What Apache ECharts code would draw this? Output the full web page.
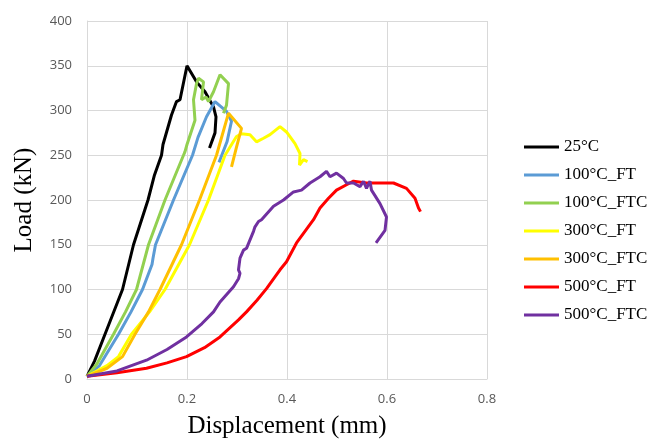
<!DOCTYPE html>
<html>
<head>
<meta charset="utf-8">
<script src="https://cdn.jsdelivr.net/npm/echarts@6/dist/echarts.min.js"></script>
<style>
  html, body { margin: 0; padding: 0; background: #fff; }
  #chart { width: 654px; height: 439px; }
</style>
</head>
<body>
<div id="chart"></div>
<script>
// load-displacement curves, [displacement mm, load kN]
const names = ["25°C", "100°C_FT", "100°C_FTC", "300°C_FT", "300°C_FTC", "500°C_FT", "500°C_FTC"];
const colors = ["#000000", "#5b9bd5", "#92d050", "#ffff00", "#ffc000", "#ff0000", "#7030a0"];

const curve25 = [[0,3],[0.015,20],[0.036,50],[0.071,100],[0.093,150],[0.122,200],[0.135,228],
  [0.149,250],[0.152,262],[0.169,295],[0.179,310],[0.186,312],[0.2,350],[0.219,332],
  [0.236,321],[0.253,304],[0.258,293],[0.256,275],[0.245,258]];
const curve100FT = [[0,3],[0.025,15],[0.063,50],[0.088,75],[0.111,100],[0.13,128],[0.132,135],
  [0.137,150],[0.173,200],[0.211,250],[0.222,270],[0.239,293],[0.256,310],[0.279,299],[0.289,288],
  [0.28,265],[0.264,242]];
const curve100FTC = [[0,3],[0.02,17],[0.053,50],[0.077,75],[0.099,100],[0.123,150],[0.156,200],
  [0.193,250],[0.196,254],[0.2,262],[0.216,289],[0.213,312],[0.219,330],[0.223,336],[0.233,332],
  [0.229,312],[0.238,315],[0.243,310],[0.253,321],[0.266,340],[0.283,330],[0.279,306],[0.273,297]];
const curve300FT = [[0,3],[0.04,15],[0.063,25],[0.089,50],[0.125,75],[0.156,100],[0.205,150],
  [0.243,200],[0.276,250],[0.299,271],[0.309,274],[0.326,273],[0.339,265],[0.353,269],[0.366,273],
  [0.386,282],[0.399,276],[0.416,263],[0.426,252],[0.425,239],[0.433,245],[0.441,243]];
const curve300FTC = [[0,3],[0.04,12],[0.071,25],[0.096,50],[0.123,75],[0.146,100],[0.189,150],
  [0.225,200],[0.259,250],[0.283,297],[0.309,280],[0.299,259],[0.289,237]];
const curve500FT = [[0,3],[0.06,7],[0.119,12],[0.16,18],[0.199,25],[0.235,35],[0.266,47],[0.303,66],
  [0.319,75],[0.34,88],[0.359,101],[0.386,122],[0.399,131],[0.419,152],[0.453,178],[0.466,191],
  [0.483,202],[0.499,211],[0.519,217],[0.533,221],[0.559,219],[0.586,219],[0.613,219],[0.639,213],
  [0.656,202],[0.663,191],[0.667,187]];
const curve500FTC = [[0,3],[0.06,9],[0.119,21],[0.16,33],[0.199,47],[0.23,62],[0.253,75],[0.266,86],
  [0.293,103],[0.303,112],[0.306,118],[0.303,122],[0.306,135],[0.313,144],[0.319,146],[0.333,165],
  [0.336,170],[0.343,176],[0.349,178],[0.373,193],[0.393,200],[0.413,209],[0.429,211],[0.446,219],
  [0.466,226],[0.479,232],[0.486,226],[0.499,230],[0.513,224],[0.519,219],[0.533,219],[0.546,215],
  [0.553,221],[0.559,213],[0.566,221],[0.569,211],[0.586,196],[0.599,181],[0.596,166],[0.578,152]];

const curves = [curve25, curve100FT, curve100FTC, curve300FT, curve300FTC, curve500FT, curve500FTC];

const chart = echarts.init(document.getElementById("chart"));

const tickStyle = { color: "#595959", fontFamily: "Open Sans", fontSize: 13 };
const gridLine = { lineStyle: { color: "#d9d9d9", width: 1 } };
const titleStyle = { fontFamily: "Liberation Serif", fontSize: 25, color: "#000" };

chart.setOption({
    animation: false,
    grid: { left: 87, right: 167, top: 21, bottom: 60, outerBoundsMode: "none" },
    legend: {
        orient: "vertical",
        left: 524,
        top: 138,
        padding: 0,
        itemWidth: 35,
        itemHeight: 3,
        itemGap: 10,
        icon: "rect",
        textStyle: { fontFamily: "Liberation Serif", fontSize: 17, color: "#000", lineHeight: 18 },
        data: names
    },
    xAxis: {
        type: "value",
        min: 0, max: 0.8, interval: 0.2,
        name: "Displacement (mm)",
        nameLocation: "middle",
        nameGap: 35,
        nameTextStyle: titleStyle,
        axisLine: { lineStyle: { color: "#d9d9d9" } },
        axisTick: { show: false },
        axisLabel: Object.assign({ margin: 14 }, tickStyle),
        splitLine: gridLine
    },
    yAxis: {
        type: "value",
        min: 0, max: 400, interval: 50,
        name: "Load (kN)",
        nameLocation: "middle",
        nameGap: 50,
        nameTextStyle: titleStyle,
        axisLine: { show: true, lineStyle: { color: "#d9d9d9" } },
        axisTick: { show: false },
        axisLabel: Object.assign({ margin: 15 }, tickStyle),
        splitLine: gridLine
    },
    series: names.map((n, i) => ({
        name: n,
        type: "line",
        data: curves[i],
        showSymbol: false,
        symbol: "none",
        color: colors[i],
        lineStyle: { color: colors[i], width: 3 }
    }))
});
</script>
</body>
</html>
